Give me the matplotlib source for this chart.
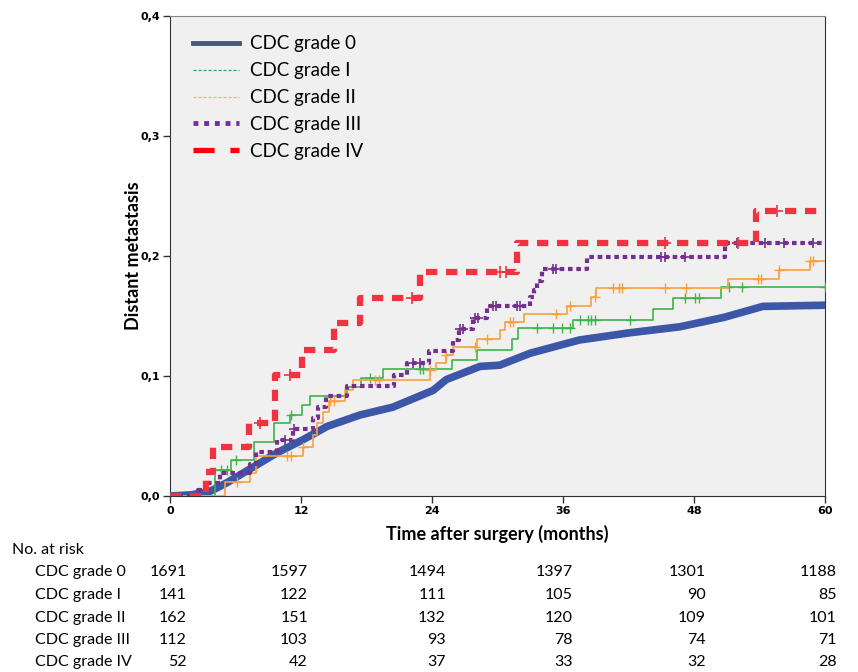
import numpy as np
import matplotlib.pyplot as plt
from matplotlib.lines import Line2D

# -----------------------------
# Data
# -----------------------------
groups = ["CDC grade 0", "CDC grade I", "CDC grade II", "CDC grade III", "CDC grade IV"]

# grade 0 (large group, almost smooth)
t_g0 = [0, 2.0, 3.7, 5.2, 7.6, 9.8, 12.2, 14.4, 17.4, 20.4, 24.1, 25.3, 28.4,
        30.2, 33.0, 37.5, 42.1, 46.7, 50.8, 54.3, 60]
y_g0 = [0, 0.001, 0.004, 0.011, 0.024, 0.036, 0.047, 0.058, 0.0675, 0.074, 0.088,
        0.097, 0.108, 0.109, 0.119, 0.130, 0.136, 0.141, 0.149, 0.158, 0.159]

# grade I
t_g1 = [0, 4.1, 5.6, 7.7, 9.5, 11.0, 12.1, 12.8, 16.2, 17.5, 19.5, 25.8, 28.1,
        31.3, 31.9, 36.9, 44.2, 46.1, 50.5, 60]
y_g1 = [0, 0.022, 0.030, 0.045, 0.061, 0.0675, 0.076, 0.0836, 0.091, 0.098, 0.106,
        0.113, 0.122, 0.131, 0.140, 0.147, 0.156, 0.165, 0.174, 0.174]
c_g1 = [4.7, 5.2, 6.0, 11.1, 18.3, 22.9, 23.2, 33.6, 35.1, 35.9, 36.6, 37.6, 38.3,
        38.6, 38.9, 42.1, 47.2, 48.1, 48.5, 51.2, 52.4, 60]

# grade II
t_g2 = [0, 5.0, 7.3, 7.9, 12.2, 13.1, 13.5, 14.0, 14.6, 16.0, 16.8, 23.8, 24.4,
        25.3, 25.9, 28.1, 30.2, 30.7, 32.4, 36.4, 38.6, 39.0, 51.1, 55.8, 58.6, 60]
y_g2 = [0, 0.012, 0.019, 0.033, 0.041, 0.051, 0.061, 0.070, 0.079, 0.088, 0.097,
        0.105, 0.111, 0.1175, 0.124, 0.131, 0.138, 0.145, 0.152, 0.158, 0.166,
        0.173, 0.181, 0.188, 0.196, 0.196]
c_g2 = [6.1, 10.7, 11.1, 12.2, 14.7, 15.0, 18.8, 19.1, 23.8, 25.3, 27.9, 29.0,
        31.1, 31.4, 35.4, 36.6, 38.9, 40.6, 41.1, 41.4, 45.3, 47.3, 53.9, 54.1,
        55.8, 58.6, 58.9]

# grade III
t_g3 = [0, 2.6, 3.5, 4.6, 7.3, 7.9, 9.8, 11.3, 13.1, 13.6, 14.3, 16.2, 20.5, 21.7,
        23.7, 25.9, 26.5, 27.8, 29.0, 33.0, 33.3, 33.6, 34.1, 38.2, 50.8, 60]
y_g3 = [0, 0.005, 0.0106, 0.019, 0.027, 0.037, 0.047, 0.056, 0.065, 0.074, 0.083,
        0.092, 0.101, 0.111, 0.121, 0.130, 0.139, 0.148, 0.158, 0.166, 0.172,
        0.179, 0.189, 0.1994, 0.2106, 0.2106]
c_g3 = [10.5, 11.4, 22.3, 22.9, 26.6, 26.8, 27.9, 28.2, 29.6, 29.9, 31.8, 32.1,
        35.1, 35.4, 45.0, 45.3, 47.2, 51.9, 54.5, 56.2, 58.9]

# grade IV
t_g4 = [0, 3.3, 3.9, 7.2, 9.6, 12.1, 15.0, 17.4, 22.9, 31.8, 53.7, 60]
y_g4 = [0, 0.020, 0.041, 0.061, 0.101, 0.122, 0.144, 0.165, 0.187, 0.211, 0.2375, 0.2375]
c_g4 = [8.2, 11.0, 22.2, 30.2, 30.8, 45.3, 52.0, 55.6]

# number at risk table
risk_times = [0, 12, 24, 36, 48, 60]
risk_g0 = [1691, 1597, 1494, 1397, 1301, 1188]
risk_g1 = [141, 122, 111, 105, 90, 85]
risk_g2 = [162, 151, 132, 120, 109, 101]
risk_g3 = [112, 103, 93, 78, 74, 71]
risk_g4 = [52, 42, 37, 33, 32, 28]

y_ticks = [0.0, 0.1, 0.2, 0.3, 0.4]
y_tick_labels = ["0,0", "0,1", "0,2", "0,3", "0,4"]


def step_value(t, y, when):
    # value of the step curve at given censoring times
    idx = np.searchsorted(t, when, side="right") - 1
    return np.array(y)[idx]


# -----------------------------
# Figure
# -----------------------------
W, H = 858, 672
fig = plt.figure(figsize=(W / 100, H / 100), dpi=100)
ax = fig.add_axes([170 / W, 1 - 496 / H, 655 / W, 480 / H])
ax.set_facecolor("#F0F0F0")

tick_font = dict(family=["Liberation Sans Narrow", "DejaVu Sans"], weight="bold", size=8)
label_font = dict(family=["Lato", "DejaVu Sans"], weight="bold", size=13)
text_font = dict(family=["Lato", "DejaVu Sans"], size=11.5)

blue = "#3D57A8"
green = "#3EB54C"
orange = "#F9A03C"
purple = "#74308E"
red = "#EF3340"

ax.plot(t_g0, y_g0, color=blue, lw=5.5, solid_capstyle="butt", zorder=3)
ax.step(t_g1, y_g1, where="post", color=green, lw=1.2, zorder=4)
ax.plot(c_g1, step_value(t_g1, y_g1, c_g1), "+", color=green, ms=7, mew=1, zorder=4)
ax.step(t_g2, y_g2, where="post", color=orange, lw=1.2, zorder=4)
ax.plot(c_g2, step_value(t_g2, y_g2, c_g2), "+", color=orange, ms=7, mew=1, zorder=4)
ax.step(t_g3, y_g3, where="post", color=purple, lw=3, ls=(0, (1.1, 0.9)), zorder=5)
ax.plot(c_g3, step_value(t_g3, y_g3, c_g3), "+", color=purple, ms=7, mew=1.2, zorder=5)
ax.step(t_g4, y_g4, where="post", color=red, lw=4.5, ls=(0, (1.8, 1.4)), zorder=6)
ax.plot(c_g4, step_value(t_g4, y_g4, c_g4), "+", color=red, ms=8, mew=1.2, zorder=6)

ax.set_xlim(0, 60)
ax.set_ylim(0, 0.4)
ax.set_xticks(risk_times)
ax.set_xticklabels([str(t) for t in risk_times], **tick_font)
ax.set_yticks(y_ticks)
ax.set_yticklabels(y_tick_labels, **tick_font)
ax.tick_params(direction="out", length=5, width=1, color="#333333", pad=2)

for side in ["left", "bottom", "right"]:
    ax.spines[side].set_color("#333333")
ax.spines["top"].set_color("#888888")

ax.set_xlabel("Time after surgery (months)", **label_font)
ax.xaxis.set_label_coords(0.5, -0.061)
ax.set_ylabel("Distant metastasis", **label_font)
ax.yaxis.set_label_coords(-0.043, 0.5)

# legend with its own handle styles
handles = [
    Line2D([], [], color="#4A5874", lw=3.5),
    Line2D([], [], color="#35A853", lw=0.9, ls=(0, (2.5, 1.5))),
    Line2D([], [], color="#FFC000", lw=0.9, ls=(0, (2.5, 1.5))),
    Line2D([], [], color="#7030A0", lw=3.5, ls=(0, (1, 1.2))),
    Line2D([], [], color="#FF0000", lw=3.8, ls=(0, (4, 3))),
]
ax.legend(handles, groups, loc="upper left", bbox_to_anchor=(0.035, 0.96),
          frameon=False, prop=dict(family=["Lato", "DejaVu Sans"], size=13.5),
          handlelength=2.45, handletextpad=0.6, labelspacing=0.53,
          borderpad=0, borderaxespad=0)

# number at risk table
fig.text(12 / W, 1 - 550 / H, "No. at risk", va="center", ha="left", **text_font)
row_y = [572, 595, 618, 640, 662]
col_x = [187, 308, 446, 573, 706, 837]
risk_rows = [risk_g0, risk_g1, risk_g2, risk_g3, risk_g4]
for name, ry, counts in zip(groups, row_y, risk_rows):
    fig.text(35 / W, 1 - ry / H, name, va="center", ha="left", **text_font)
    for cx, n in zip(col_x, counts):
        fig.text(cx / W, 1 - ry / H, str(n), va="center", ha="right", **text_font)

fig.savefig("out.png", dpi=100)
